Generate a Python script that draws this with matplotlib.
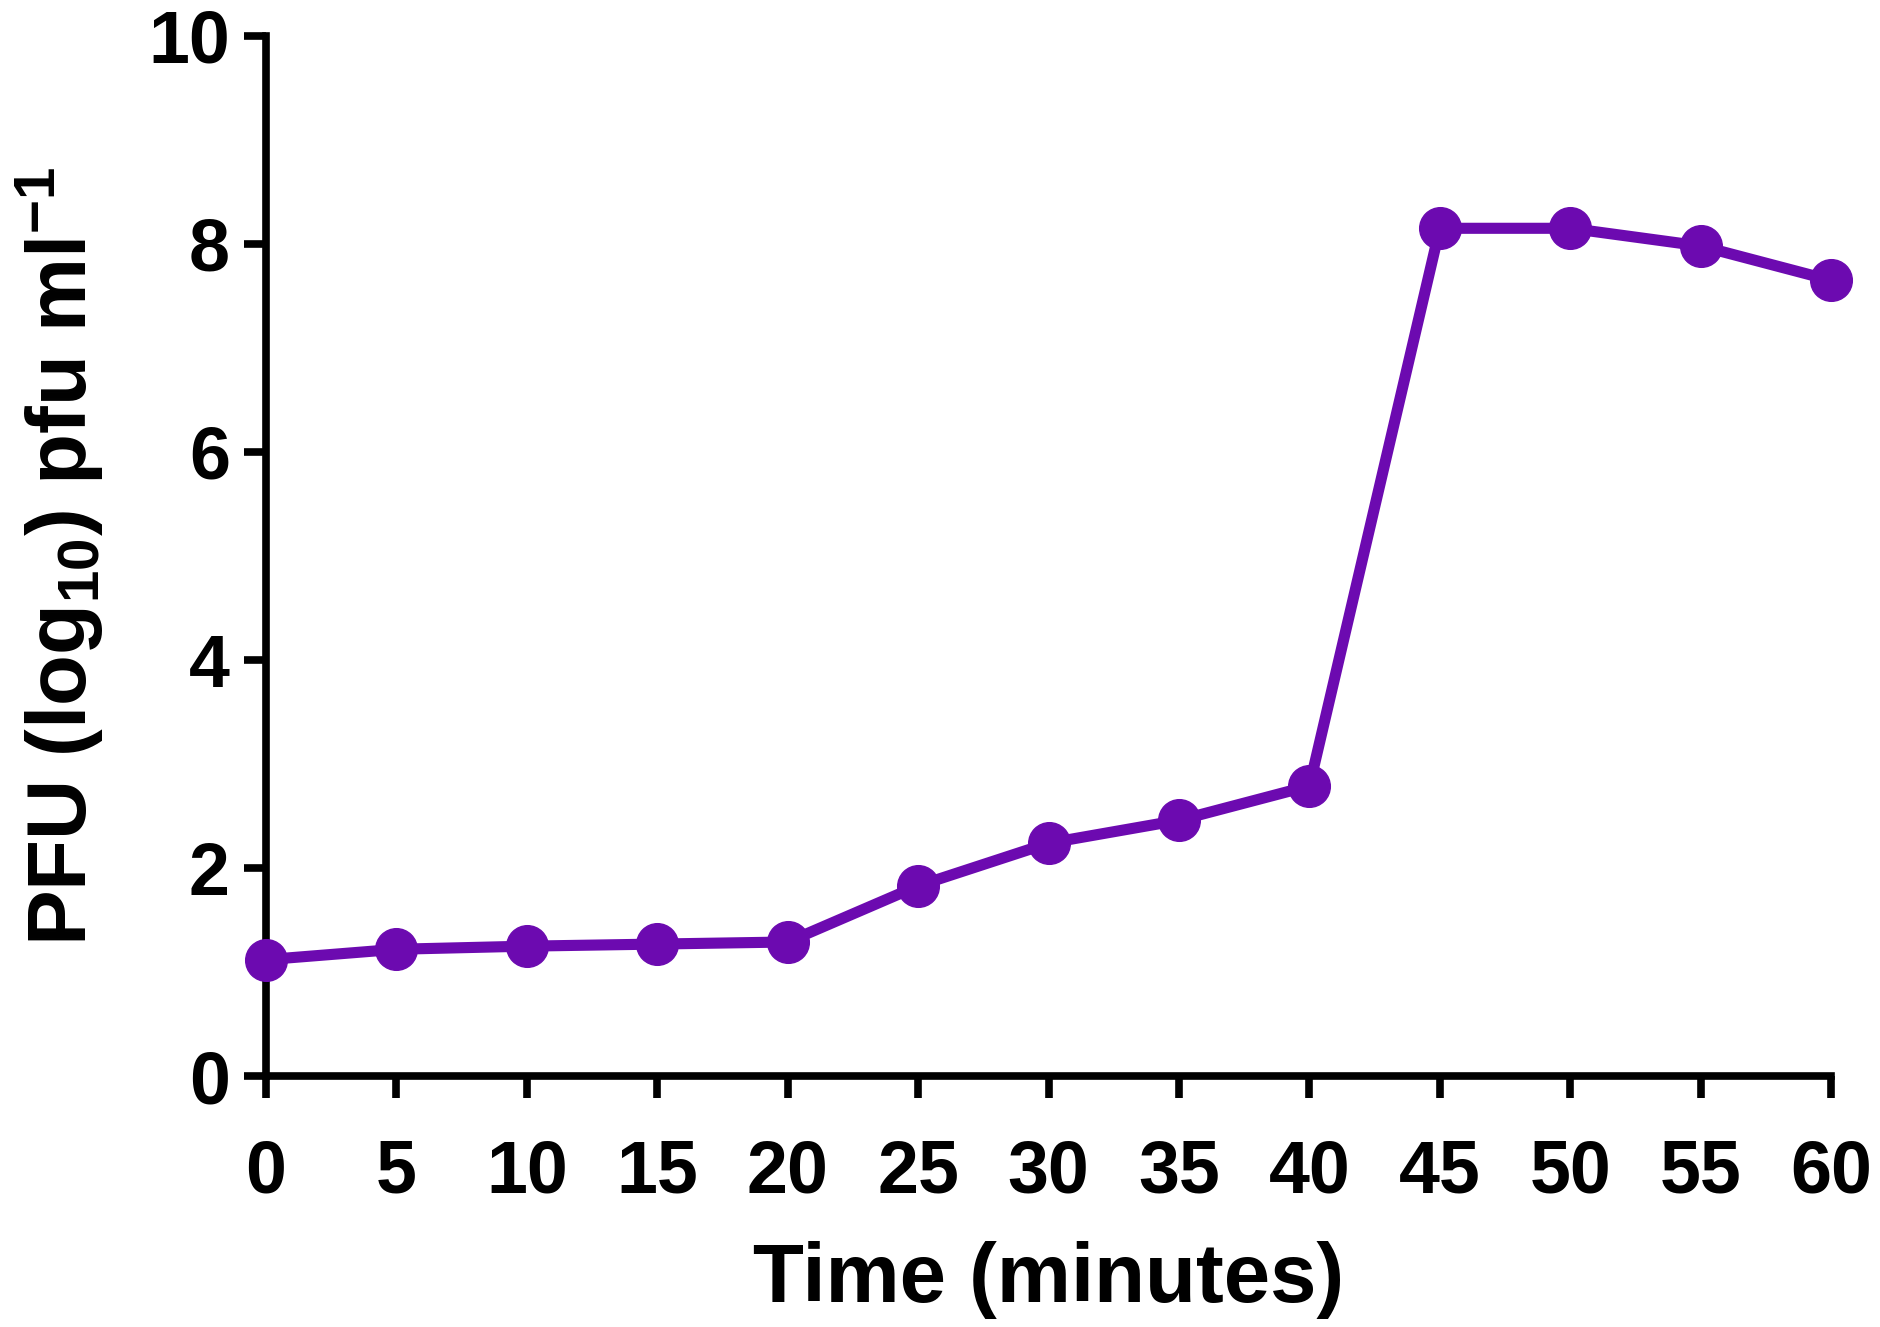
import matplotlib.pyplot as plt
import numpy as np

time_min = [0, 5, 10, 15, 20, 25, 30, 35, 40, 45, 50, 55, 60]
pfu_log = [1.12, 1.22, 1.25, 1.27, 1.29, 1.83, 2.24, 2.46, 2.79, 8.15, 8.15, 7.98, 7.65]
x_ticks = [0, 5, 10, 15, 20, 25, 30, 35, 40, 45, 50, 55, 60]
y_ticks = [0, 2, 4, 6, 8, 10]


def main():
    plt.rcParams['font.family'] = ['Liberation Sans', 'DejaVu Sans']
    plt.rcParams['font.weight'] = 'bold'
    plt.rcParams['mathtext.fontset'] = 'custom'
    plt.rcParams['mathtext.rm'] = 'Liberation Sans:bold'
    plt.rcParams['mathtext.bf'] = 'Liberation Sans:bold'
    plt.rcParams['mathtext.default'] = 'bf'

    fig = plt.figure(figsize=(18.8, 13.27), dpi=100)
    ax = fig.add_axes([0.1415, 0.189, 0.8325, 0.784])

    color = "#6C0AB0"
    ax.plot(time_min, pfu_log, color=color, lw=8, marker="o", ms=30,
            clip_on=False, zorder=3)

    ax.set_xlim(0, 60)
    ax.set_ylim(0, 10)
    ax.set_xticks(x_ticks)
    ax.set_yticks(y_ticks)

    for s in ["top", "right"]:
        ax.spines[s].set_visible(False)
    for s in ["left", "bottom"]:
        ax.spines[s].set_linewidth(5.5)

    ax.tick_params(axis="both", direction="out", length=16, width=5.5,
                   labelsize=53)
    ax.tick_params(axis="x", pad=29)
    ax.tick_params(axis="y", pad=10)
    for lab in ax.get_xticklabels() + ax.get_yticklabels():
        lab.set_fontweight("bold")

    ax.set_xlabel("Time (minutes)", fontsize=60, fontweight="bold", labelpad=24)
    ax.set_ylabel("PFU (log$_{10}$) pfu ml$^{-1}$", fontsize=60,
                  fontweight="bold", labelpad=30)

    fig.savefig("out.png", dpi=100)


if __name__ == "__main__":
    main()
